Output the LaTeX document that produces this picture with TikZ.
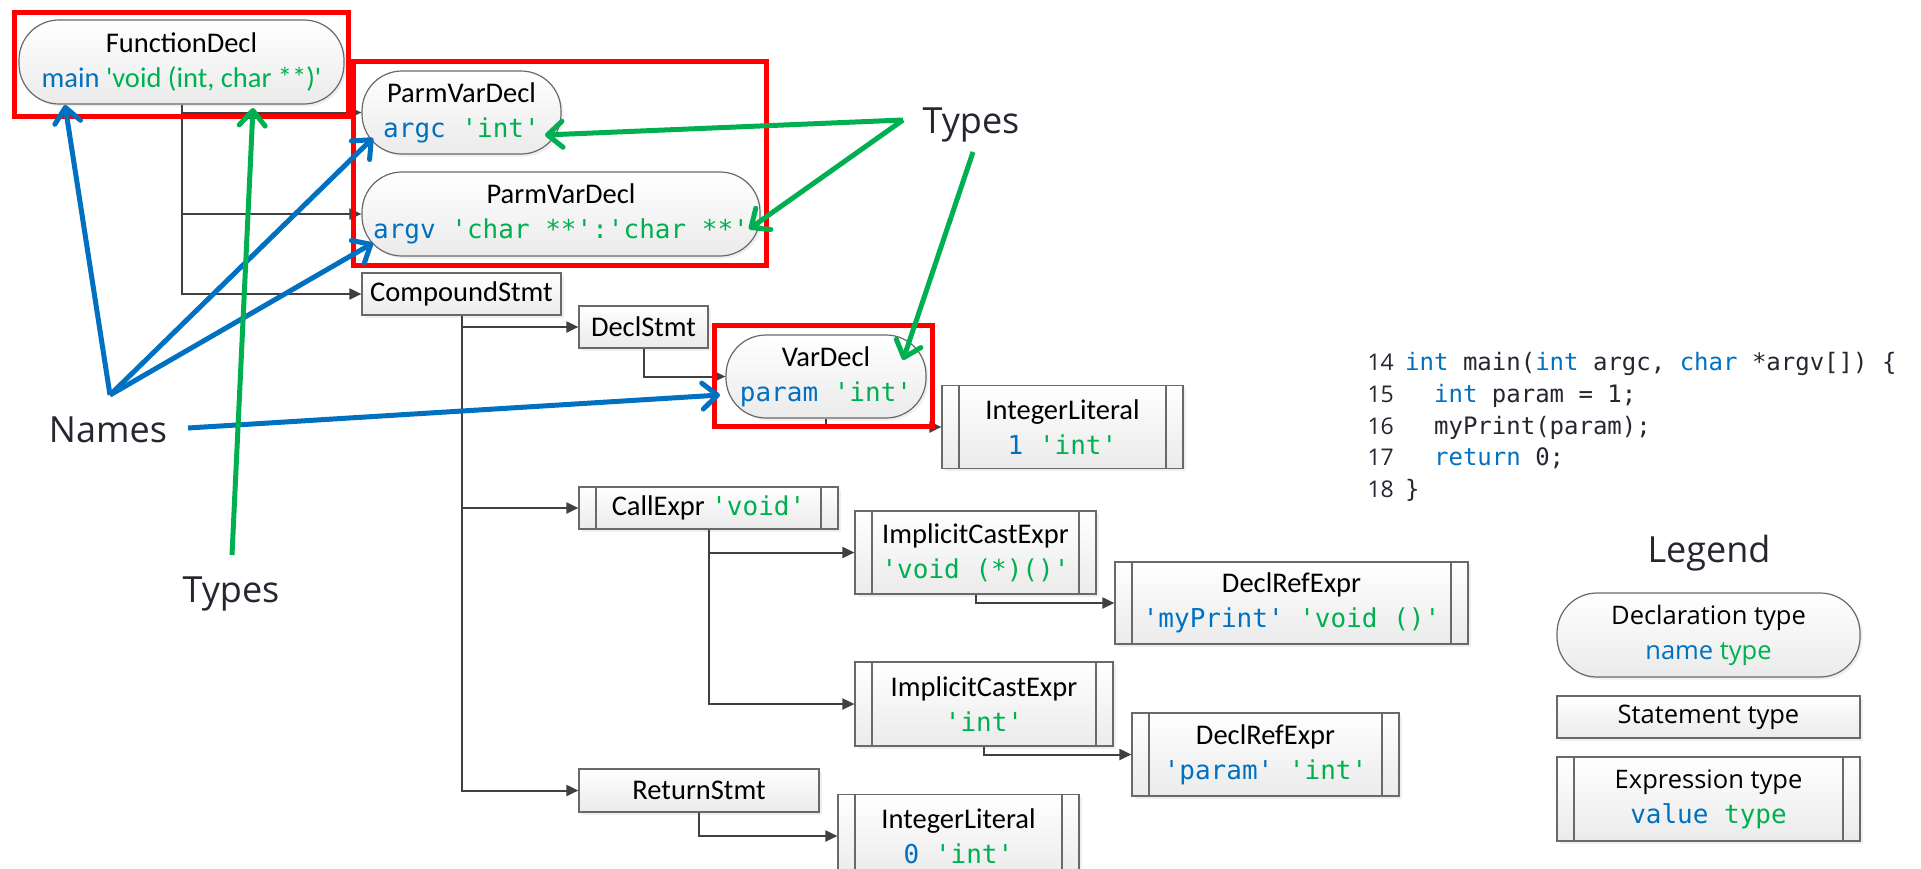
\documentclass[tikz,border=0pt]{standalone}
\usepackage{fontspec}
\usetikzlibrary{arrows.meta,shadows}
\newfontfamily\calib{Carlito}[Ligatures=TeXOff]
\newfontfamily\segoe{Open Sans}[Ligatures=TeXOff]
\newfontfamily\consol{DejaVu Sans Mono}[Ligatures=TeXOff]
\definecolor{nblue}{RGB}{0,112,192}
\definecolor{ngreen}{RGB}{0,176,80}
\definecolor{ngray}{RGB}{64,64,64}
\definecolor{bord}{RGB}{105,105,105}
\definecolor{annotc}{RGB}{38,38,48}
\definecolor{ared}{RGB}{255,0,0}
\newcommand{\bluet}[1]{\textcolor{nblue}{#1}}
\newcommand{\greent}[1]{\textcolor{ngreen}{#1}}
\newcommand{\monof}{\consol\fontsize{26}{35}\selectfont}
\tikzset{
  boxbase/.style={draw=bord, line width=1.2pt, top color=white, bottom color=black!8,
    drop shadow={shadow xshift=2.5pt, shadow yshift=-2.5pt, fill=black!12},
    align=center, inner sep=0pt, text=black,
    font=\calib\fontsize{28.5}{35}\selectfont},
  decl/.style={boxbase, rounded corners=40pt},
  stmt/.style={boxbase},
  expr/.style={boxbase, path picture={
      \draw[bord, line width=1.2pt]
        ([xshift=17pt]path picture bounding box.north west) -- ([xshift=17pt]path picture bounding box.south west)
        ([xshift=-17pt]path picture bounding box.north east) -- ([xshift=-17pt]path picture bounding box.south east);}},
  conn/.style={draw=ngray, line width=2pt, -{Triangle[length=12pt,width=11pt]}},
  redbox/.style={draw=ared, line width=5pt},
  bluearr/.style={draw=nblue, line width=5pt, -{Straight Barb[length=15pt,width=26pt,round]}},
  greenarr/.style={draw=ngreen, line width=5pt, -{Straight Barb[length=15pt,width=26pt,round]}},
  annot/.style={text=annotc, font=\segoe\fontsize{36}{40}\selectfont, inner sep=0pt, anchor=base},
  codeline/.style={anchor=base west, inner sep=0pt, font=\consol\fontsize{24}{30}\selectfont, text=annotc},
  lineno/.style={anchor=base east, inner sep=0pt, font=\segoe\fontsize{23}{30}\selectfont, text=annotc},
  legfont/.style={font=\segoe\fontsize{25.5}{35}\selectfont}
}
\begin{document}
\begin{tikzpicture}[x=1pt,y=-1pt]
\fill[white] (0,0) rectangle (1921,868);
\useasboundingbox (0,0) rectangle (1921,868);

% AST nodes
\node[decl, minimum width=325pt, minimum height=84pt] (fd) at (181.5,62)
  {FunctionDecl\\\bluet{main} \greent{'void (int, char **)'}};
\node[decl, minimum width=199pt, minimum height=83pt] (pvd1) at (461.5,112.5)
  {ParmVarDecl\\{\monof\bluet{argc} \greent{'int'}}};
\node[decl, minimum width=398pt, minimum height=84pt] (pvd2) at (561,214)
  {ParmVarDecl\\{\monof\bluet{argv} \greent{'char **':'char **'}}};
\node[stmt, minimum width=199pt, minimum height=42pt] (cs) at (461.5,294) {CompoundStmt};
\node[stmt, minimum width=129pt, minimum height=42pt] (ds) at (643.5,327) {DeclStmt};
\node[decl, minimum width=200pt, minimum height=83pt] (vd) at (826,376.5)
  {VarDecl\\{\monof\bluet{param} \greent{'int'}}};
\node[expr, minimum width=241pt, minimum height=83pt] (il1) at (1062.5,427)
  {IntegerLiteral\\{\monof\bluet{1} \greent{'int'}}};
\node[expr, minimum width=259pt, minimum height=42pt] (ce) at (708.5,508)
  {CallExpr {\monof\greent{'void'}}};
\node[expr, minimum width=241pt, minimum height=83pt] (ice1) at (975.5,552.5)
  {ImplicitCastExpr\\{\monof\greent{'void (*)()'}}};
\node[expr, minimum width=353pt, minimum height=82pt] (dre1) at (1291.5,603)
  {DeclRefExpr\\{\monof\bluet{'myPrint'} \greent{'void ()'}}};
\node[expr, minimum width=258pt, minimum height=84pt] (ice2) at (984,704)
  {ImplicitCastExpr\\{\monof\greent{'int'}}};
\node[expr, minimum width=267pt, minimum height=83pt] (dre2) at (1265.5,754.5)
  {DeclRefExpr\\{\monof\bluet{'param'} \greent{'int'}}};
\node[stmt, minimum width=240pt, minimum height=43pt] (rs) at (699,790.5) {ReturnStmt};
\node[expr, minimum width=241pt, minimum height=83pt] (il2) at (958.5,836)
  {IntegerLiteral\\{\monof\bluet{0} \greent{'int'}}};

% tree connectors
\draw[conn] (fd.south) |- (pvd1.west);
\draw[conn] (fd.south) |- (pvd2.west);
\draw[conn] (fd.south) |- (cs.west);
\draw[conn] (cs.south) |- (ds.west);
\draw[conn] (cs.south) |- (ce.west);
\draw[conn] (cs.south) |- (rs.west);
\draw[conn] (ds.south) |- (vd.west);
\draw[conn] (vd.south) |- (il1.west);
\draw[conn] (ce.south) |- (ice1.west);
\draw[conn] (ce.south) |- (ice2.west);
\draw[conn] (ice1.south) |- (dre1.west);
\draw[conn] (ice2.south) |- (dre2.west);
\draw[conn] (rs.south) |- (il2.west);

% red highlight boxes
\draw[redbox] (14.5,12.5) rectangle (348.5,116.5);
\draw[redbox] (353.5,61.5) rectangle (766.5,265.5);
\draw[redbox] (714.5,325.5) rectangle (932.5,426.5);

% annotation labels
\node[annot] (names) at (108,442) {Names};
\node[annot] (typesa) at (231,602) {Types};
\node[annot] (typesb) at (971,133) {Types};

% annotation arrows
\coordinate (nj) at (110,395);
\coordinate (ns) at (188,428);
\coordinate (tfd) at (65,105);
\coordinate (tpvda) at (373,138);
\coordinate (tpvdb) at (373,243);
\coordinate (tvd) at (720,395);
\draw[bluearr] (nj) -- (tfd);
\draw[bluearr] (nj) -- (tpvda);
\draw[bluearr] (nj) -- (tpvdb);
\draw[bluearr] (ns) -- (tvd);

\coordinate (gj) at (903,120);
\coordinate (gs) at (973,152);
\coordinate (gb) at (232,555);
\coordinate (gfd) at (253,108);
\coordinate (gpvda) at (545,135);
\coordinate (gpvdb) at (749,229);
\coordinate (gvd) at (903,360);
\draw[greenarr] (gb) -- (gfd);
\draw[greenarr] (gj) -- (gpvda);
\draw[greenarr] (gj) -- (gpvdb);
\draw[greenarr] (gs) -- (gvd);

% source code
\node[lineno] (n14) at (1394,370) {14};
\node[lineno] (n15) at (1394,402) {15};
\node[lineno] (n16) at (1394,434) {16};
\node[lineno] (n17) at (1394,465) {17};
\node[lineno] (n18) at (1394,497) {18};
\node[codeline] (c14) at (1405,370) {\bluet{int} main(\bluet{int} argc, \bluet{char} *argv[]) \{};
\node[codeline] (c15) at (1405,402) {\hphantom{xx}\bluet{int} param = 1;};
\node[codeline] (c16) at (1405,434) {\hphantom{xx}myPrint(param);};
\node[codeline] (c17) at (1405,465) {\hphantom{xx}\bluet{return} 0;};
\node[codeline] (c18) at (1405,497) {\}};

% legend
\node[annot] (legend) at (1709,562) {Legend};
\node[decl, legfont, minimum width=303pt, minimum height=84pt] (ldecl) at (1708.5,635)
  {Declaration type\\\bluet{name} \greent{type}};
\node[stmt, legfont, minimum width=303pt, minimum height=42pt] (lstmt) at (1708.5,717) {Statement type};
\node[expr, legfont, minimum width=303pt, minimum height=84pt] (lexpr) at (1708.5,799)
  {Expression type\\{\monof\bluet{value} \greent{type}}};
\end{tikzpicture}
\end{document}
